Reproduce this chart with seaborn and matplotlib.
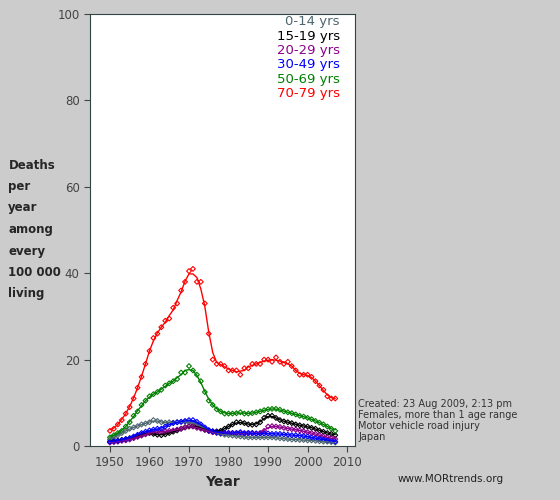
import matplotlib
matplotlib.use("Agg")
import matplotlib.pyplot as plt
import seaborn as sns
import numpy as np
import pandas as pd

years = list(range(1950, 2008))
age_0_14 = [1.5,2.0,2.5,3.0,3.5,4.0,4.3,4.6,5.0,5.2,5.5,6.0,5.8,5.5,5.4,5.5,5.4,5.5,5.6,5.6,5.5,5.3,5.0,4.6,4.0,3.5,3.2,3.0,2.8,2.6,2.5,2.4,2.3,2.2,2.1,2.0,2.0,2.0,2.0,2.0,2.0,2.0,1.9,1.8,1.7,1.6,1.5,1.5,1.4,1.4,1.3,1.3,1.2,1.1,1.0,1.0,0.9,0.8]
age_15_19 = [1.0,1.1,1.2,1.4,1.6,1.8,2.0,2.3,2.6,2.8,3.0,2.8,2.6,2.5,2.7,3.0,3.3,3.6,4.0,4.3,4.5,4.6,4.5,4.2,3.8,3.5,3.4,3.4,3.5,4.0,4.5,5.0,5.5,5.5,5.3,5.0,4.9,5.0,5.5,6.5,7.0,7.0,6.5,6.0,5.7,5.5,5.3,5.0,4.8,4.6,4.5,4.2,4.0,3.6,3.3,3.0,2.8,2.5]
age_20_29 = [0.8,0.9,1.0,1.2,1.3,1.5,1.8,2.1,2.4,2.7,3.0,3.2,3.3,3.3,3.4,3.5,3.6,3.8,4.0,4.3,4.6,4.5,4.2,4.0,3.7,3.5,3.2,3.1,3.0,3.0,3.0,3.0,3.0,3.0,2.9,3.0,3.0,2.9,3.0,3.5,4.5,4.6,4.5,4.4,4.2,4.0,3.9,3.8,3.6,3.4,3.2,3.0,2.8,2.5,2.2,2.0,1.8,1.6]
age_30_49 = [1.0,1.1,1.2,1.4,1.6,1.8,2.2,2.6,3.0,3.3,3.6,3.8,4.0,4.0,4.5,5.0,5.3,5.5,5.6,5.8,6.0,6.0,5.6,5.0,4.3,3.7,3.4,3.2,3.0,3.0,3.0,3.0,3.0,3.2,3.0,3.0,3.0,2.9,2.9,2.9,2.9,2.8,2.8,2.8,2.7,2.6,2.5,2.5,2.4,2.3,2.2,2.0,1.8,1.7,1.5,1.3,1.2,1.0]
age_50_69 = [2.0,2.5,3.0,3.5,4.5,5.5,7.0,8.0,9.5,10.5,11.5,12.0,12.5,13.0,14.0,14.5,15.0,15.5,17.0,17.0,18.5,17.5,16.5,15.0,12.5,10.5,9.5,8.5,8.0,7.5,7.5,7.5,7.6,7.8,7.5,7.5,7.6,7.8,8.0,8.3,8.5,8.6,8.6,8.4,8.0,7.8,7.6,7.3,7.0,6.8,6.5,6.2,5.8,5.4,5.0,4.5,4.0,3.5]
age_70_79 = [3.5,4.0,5.0,6.0,7.5,9.0,11.0,13.5,16.0,19.0,22.0,25.0,26.0,27.5,29.0,29.5,32.0,33.0,36.0,38.0,40.5,41.0,38.0,38.0,33.0,26.0,20.0,19.0,19.0,18.5,17.5,17.5,17.5,16.5,18.0,18.0,19.0,19.0,19.0,20.0,20.0,19.5,20.5,19.5,19.0,19.5,18.5,17.5,16.5,16.5,16.5,16.0,15.0,14.0,13.0,11.5,11.0,11.0]

series = {"0-14 yrs": (age_0_14, "#4d6670"), "15-19 yrs": (age_15_19, "#000000"),
          "20-29 yrs": (age_20_29, "#8b008b"), "30-49 yrs": (age_30_49, "#0000ff"),
          "50-69 yrs": (age_50_69, "#008000"), "70-79 yrs": (age_70_79, "#ff0000")}

sns.set_style("white")
fig = plt.figure(figsize=(5.6, 5.0), dpi=100, facecolor="#cccccc")
ax = fig.add_axes([0.161, 0.108, 0.473, 0.864])
ax.set_facecolor("white")
for name, (vals, col) in series.items():
    df = pd.DataFrame({"Year": years, "v": vals})
    df["s"] = df["v"].rolling(3, center=True, min_periods=1).mean()
    sns.scatterplot(data=df, x="Year", y="v", ax=ax, marker="D", s=6, facecolor="none",
                    edgecolor=col, linewidth=0.8)
    sns.lineplot(data=df, x="Year", y="s", ax=ax, color=col, lw=1.0)

ax.set_xlim(1945, 2012)
ax.set_ylim(0, 100)
ax.set_xticks(range(1950, 2011, 10))
ax.set_yticks(range(0, 101, 20))
ax.tick_params(colors="#444444", labelsize=8.5, length=4, direction="out", bottom=True, left=True)
for s in ax.spines.values():
    s.set_color("#334444")
ax.set_xlabel("Year", fontsize=10, fontweight="bold")
ax.set_ylabel("")
labels = ["Deaths", "per", "year", "among", "every", "100 000", "living"]
for i, t in enumerate(labels):
    fig.text(0.015, 1 - (165 + i * 21.5) / 500, t, fontsize=8.5, fontweight="bold", va="center", ha="left")
y0 = 0.956
for i, (name, (vals, col)) in enumerate(series.items()):
    fig.text(0.607, y0 - i * 0.0285, name, color=col, fontsize=9.5, ha="right", va="center")
fig.text(0.64, 0.115, "Created: 23 Aug 2009, 2:13 pm\nFemales, more than 1 age range\nMotor vehicle road injury\nJapan",
         fontsize=7, color="#333333", va="bottom", linespacing=1.15)
fig.text(0.71, 0.035, "www.MORtrends.org", fontsize=7.5, color="#222222")
fig.savefig("out.png", dpi=100, facecolor=fig.get_facecolor())
